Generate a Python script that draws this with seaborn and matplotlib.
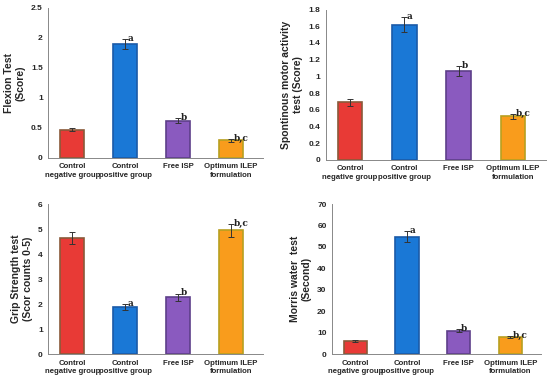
import numpy as np
import pandas as pd
import matplotlib
matplotlib.use("Agg")
import matplotlib.pyplot as plt
import seaborn as sns

sns.set_style("white")
plt.rcParams['font.family'] = ['Liberation Sans', 'DejaVu Sans']

# ------------------ Data ------------------
groups = ["Control\nnegative group", "Control\npositive group", "Free ISP", "Optimum ILEP\nformulation"]
bar_colors = ["#e83a36", "#1a78d6", "#8a5abf", "#f99c1c"]
edge_colors = ["#8a5a3a", "#1a5aa8", "#5e3f8a", "#b8a020"]

flexion = [0.47, 1.90, 0.62, 0.29]
flexion_err = [0.03, 0.08, 0.04, 0.02]

spontaneous = [0.69, 1.62, 1.06, 0.52]
spontaneous_err = [0.04, 0.09, 0.06, 0.03]

grip = [4.65, 1.87, 2.27, 4.95]
grip_err = [0.25, 0.12, 0.15, 0.25]

morris = [6.0, 54.8, 11.0, 8.0]
morris_err = [0.4, 2.5, 0.6, 0.5]

letters = ["", "a", "b", "b,c"]

panels = [
    ("Flexion Test\n(Score)", flexion, flexion_err, (0, 2.5), np.arange(0, 2.51, 0.5), ["0", "0.5", "1", "1.5", "2", "2.5"]),
    ("Spontinous motor activity\ntest (Score)", spontaneous, spontaneous_err, (0, 1.8), np.arange(0, 1.81, 0.2), ["0", "0.2", "0.4", "0.6", "0.8", "1", "1.2", "1.4", "1.6", "1.8"]),
    ("Grip Strength test\n(Scor counts 0-5)", grip, grip_err, (0, 6), np.arange(0, 6.1, 1), [str(i) for i in range(7)]),
    ("Morris water  test\n(Second)", morris, morris_err, (0, 70), np.arange(0, 71, 10), [str(i) for i in range(0, 71, 10)]),
]

axes_rects = [
    [0.088, 0.59, 0.39, 0.39],
    [0.592, 0.585, 0.40, 0.39],
    [0.088, 0.08, 0.39, 0.39],
    [0.604, 0.08, 0.38, 0.39],
]

fig = plt.figure(figsize=(5.5, 3.85), dpi=100)

for (ylabel, vals, errs, ylim, ticks, ticklabels), rect in zip(panels, axes_rects):
    ax = fig.add_axes(rect)
    df = pd.DataFrame({"Group": groups, "Value": vals})
    sns.barplot(data=df, x="Group", y="Value", hue="Group", palette=bar_colors,
                saturation=1, width=0.45, legend=False, ax=ax, linewidth=1.2)
    for patch, ec in zip(ax.patches, edge_colors):
        patch.set_edgecolor(ec)
    ax.errorbar(range(len(groups)), vals, yerr=errs, fmt="none", ecolor="#333333",
                elinewidth=0.7, capsize=2, capthick=0.7)
    span = ylim[1] - ylim[0]
    for i, (v, e, lab) in enumerate(zip(vals, errs, letters)):
        if lab:
            ax.text(i + 0.05, v + e + span * 0.005, lab, fontsize=6.5, fontweight="bold",
                    family="DejaVu Serif", color="#222222", ha="left", va="center")
    ax.set_ylim(*ylim)
    ax.set_yticks(ticks)
    ax.set_yticklabels(ticklabels, fontsize=6, fontweight="bold")
    ax.set_xticks(range(len(groups)))
    ax.set_xticklabels(groups, fontsize=5.6, fontweight="bold", linespacing=1.3)
    ax.set_xlabel("")
    ax.set_ylabel(ylabel, fontsize=7.5, fontweight="bold")
    ax.set_xlim(-0.45, 3.6)
    sns.despine(ax=ax)
    for s in ["left", "bottom"]:
        ax.spines[s].set_color("#888888")
        ax.spines[s].set_linewidth(0.7)
    ax.tick_params(axis="both", length=2, width=0.6, color="#888888", pad=2)
    ax.tick_params(axis="x", length=0, pad=4)

fig.savefig("out.png", dpi=100)
